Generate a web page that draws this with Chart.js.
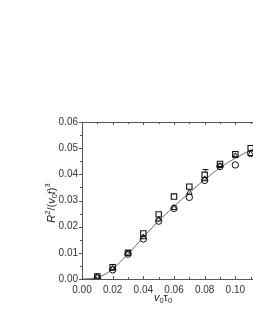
<!DOCTYPE html>
<html>
<head>
<meta charset="utf-8">
<script src="https://cdn.jsdelivr.net/npm/chart.js@4.4.1/dist/chart.umd.min.js"></script>
<style>
	html, body { margin: 0; padding: 0; background: #fff; overflow: hidden; }
	#wrap { position: relative; width: 300px; height: 327px; }
</style>
</head>
<body>
<div id="wrap"><canvas id="chart" width="300" height="327"></canvas></div>
<script>
// Values
const xValues = [ 0.01, 0.02, 0.03, 0.04, 0.05, 0.06, 0.07, 0.08, 0.09, 0.1, 0.11 ];
const squares = [ 0.0010, 0.0045, 0.0100, 0.0174, 0.0247, 0.0315, 0.0353, 0.0398, 0.0440, 0.0477, 0.0500 ];
const circles = [ 0.0005, 0.0035, 0.0095, 0.0153, 0.0221, 0.0270, 0.0312, 0.0377, 0.0430, 0.0436, 0.0480 ];
const triangles = [ 0.0008, 0.0040, 0.0097, 0.0160, 0.0228, 0.0272, 0.0330, 0.0382, 0.0432, 0.0470, 0.0478 ];
const fitX = [ 0, 0.005, 0.01, 0.015, 0.02, 0.03, 0.04, 0.05, 0.06, 0.07, 0.08, 0.09, 0.1, 0.11, 0.115 ];
const fitY = [ 0, 0.0001, 0.0006, 0.0018, 0.0038, 0.0095, 0.0160, 0.0222, 0.0277, 0.0330, 0.0380, 0.0425, 0.0462, 0.0492, 0.0505 ];
// error bar on the square series (x, top)
const errX = [ 0.08 ];
const errTop = [ 0.0419 ];

const yTicks = [ 0, 0.01, 0.02, 0.03, 0.04, 0.05, 0.06 ];
const xTicks = [ 0, 0.02, 0.04, 0.06, 0.08, 0.1 ];

const FONT = '"Liberation Sans", Arial, sans-serif';
const AXIS = '#555';
const INK = '#111';

function pts( ys ) {
	return xValues.map( ( x, i ) => ( { x: x, y: ys[ i ] } ) );
}

// draw rich text (italic, sub, sup) along current context
function drawRich( ctx, parts, size ) {
	let width = 0;
	parts.forEach( ( p ) => {
		const s = p.sub || p.sup ? size * 0.68 : size;
		ctx.font = ( p.it ? 'italic ' : '' ) + s + 'px ' + FONT;
		p.w = ctx.measureText( p.t ).width;
		p.s = s;
		width += p.w;
	} );
	let x = -width / 2;
	parts.forEach( ( p ) => {
		ctx.font = ( p.it ? 'italic ' : '' ) + p.s + 'px ' + FONT;
		let dy = 0;
		if ( p.sub ) dy = size * 0.3;
		if ( p.sup ) dy = -size * 0.4;
		ctx.fillText( p.t, x, dy );
		x += p.w;
	} );
}

const framePlugin = {
	id: 'frame',
	afterDraw( chart ) {
		const ctx = chart.ctx;
		const a = chart.chartArea;
		const xs = chart.scales.x;
		const ys = chart.scales.y;
		ctx.save();
		ctx.strokeStyle = AXIS;
		ctx.lineWidth = 1;
		ctx.beginPath();
		// top frame line
		ctx.moveTo( a.left, a.top + 0.5 );
		ctx.lineTo( a.right, a.top + 0.5 );
		// y ticks, outward
		for ( let v = 0; v <= 0.0601; v += 0.005 ) {
			const y = Math.round( ys.getPixelForValue( v ) ) + 0.5;
			const major = Math.abs( v / 0.01 - Math.round( v / 0.01 ) ) < 1e-6;
			ctx.moveTo( a.left, y );
			ctx.lineTo( a.left - ( major ? 3 : 2 ), y );
		}
		// x ticks, inward on bottom and top
		for ( let v = 0.01; v <= 0.115; v += 0.01 ) {
			const x = Math.round( xs.getPixelForValue( v ) ) + 0.5;
			const major = Math.abs( v / 0.02 - Math.round( v / 0.02 ) ) < 1e-6;
			const len = major ? 3 : 2;
			ctx.moveTo( x, a.bottom );
			ctx.lineTo( x, a.bottom - len );
			ctx.moveTo( x, a.top );
			ctx.lineTo( x, a.top + len );
		}
		ctx.stroke();

		// error bar
		ctx.strokeStyle = INK;
		ctx.beginPath();
		errX.forEach( ( ex, i ) => {
			const x = Math.round( xs.getPixelForValue( ex ) ) + 0.5;
			const idx = xValues.indexOf( ex );
			const y0 = ys.getPixelForValue( squares[ idx ] ) - 3.5;
			const y1 = Math.round( ys.getPixelForValue( errTop[ i ] ) ) + 0.5;
			ctx.moveTo( x, y0 );
			ctx.lineTo( x, y1 );
			ctx.moveTo( x - 3, y1 );
			ctx.lineTo( x + 3, y1 );
		} );
		ctx.stroke();

		// axis titles
		ctx.fillStyle = '#222';
		ctx.textBaseline = 'middle';
		ctx.textAlign = 'left';
		ctx.save();
		ctx.translate( 163, 298 );
		drawRich( ctx, [
			{ t: 'v', it: true },
			{ t: '0', sub: true },
			{ t: 'τ' },
			{ t: '0', sub: true },
		], 11 );
		ctx.restore();
		ctx.save();
		ctx.translate( 52, 203 );
		ctx.rotate( -Math.PI / 2 );
		drawRich( ctx, [
			{ t: 'R', it: true },
			{ t: '2', sup: true },
			{ t: '/(' },
			{ t: 'v', it: true },
			{ t: '0', sub: true },
			{ t: 't', it: true },
			{ t: ')' },
			{ t: '3', sup: true },
		], 11 );
		ctx.restore();
		ctx.restore();
	},
};

new Chart( document.getElementById( 'chart' ), {
	type: 'scatter',
	data: {
		datasets: [
			{
				label: 'fit',
				data: fitX.map( ( x, i ) => ( { x: x, y: fitY[ i ] } ) ),
				showLine: true,
				borderColor: '#444',
				borderWidth: 0.8,
				pointRadius: 0,
				cubicInterpolationMode: 'monotone',
				order: 4,
			},
			{
				label: 'circles',
				data: pts( circles ),
				pointStyle: 'circle',
				pointRadius: 3.2,
				borderColor: INK,
				backgroundColor: 'rgba(0,0,0,0)',
				borderWidth: 1,
			},
			{
				label: 'triangles',
				data: pts( triangles ),
				pointStyle: 'triangle',
				pointRadius: 3.2,
				borderColor: INK,
				backgroundColor: 'rgba(0,0,0,0)',
				borderWidth: 1,
			},
			{
				label: 'squares',
				data: pts( squares ),
				pointStyle: 'rect',
				pointRadius: 3.8,
				borderColor: INK,
				backgroundColor: 'rgba(0,0,0,0)',
				borderWidth: 1.1,
			},
		],
	},
	options: {
		responsive: false,
		animation: false,
		events: [],
		layout: {
			padding: { left: 0, top: 122, right: 34, bottom: 0 },
		},
		plugins: {
			legend: { display: false },
			tooltip: { enabled: false },
		},
		scales: {
			x: {
				type: 'linear',
				min: 0,
				max: 0.12,
				afterFit: ( s ) => {
					s.height = 48;
				},
				afterBuildTicks: ( s ) => {
					s.ticks = xTicks.map( ( v ) => ( { value: v } ) );
				},
				grid: { display: false, drawTicks: false },
				border: { color: AXIS, width: 1 },
				ticks: {
					padding: 5,
					color: '#333',
					font: { family: FONT, size: 10 },
					callback: ( v ) => v.toFixed( 2 ),
				},
			},
			y: {
				type: 'linear',
				min: 0,
				max: 0.06,
				afterFit: ( s ) => {
					s.width = 82;
				},
				afterBuildTicks: ( s ) => {
					s.ticks = yTicks.map( ( v ) => ( { value: v } ) );
				},
				grid: { display: false, drawTicks: false },
				border: { color: AXIS, width: 1 },
				ticks: {
					padding: 4,
					color: '#333',
					font: { family: FONT, size: 10 },
					callback: ( v ) => v.toFixed( 2 ),
				},
			},
		},
	},
	plugins: [ framePlugin ],
} );
</script>
</body>
</html>
